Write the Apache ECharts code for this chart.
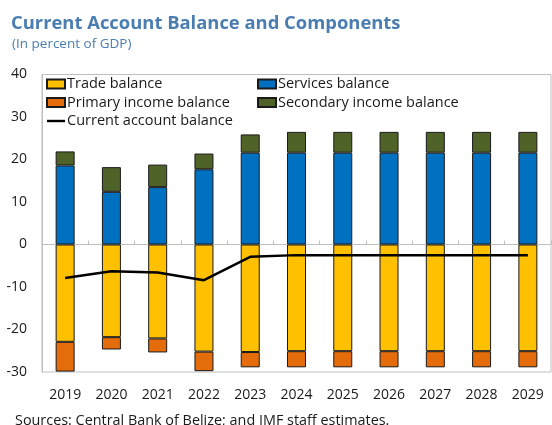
<!DOCTYPE html>
<html>
<head>
<meta charset="utf-8">
<script src="https://cdn.jsdelivr.net/npm/echarts@6/dist/echarts.min.js"></script>
<style>
  html, body { margin: 0; padding: 0; background: #fff; }
  #chart { width: 552px; height: 425px; }
</style>
</head>
<body>
<div id="chart"></div>
<script>
var years = ['2019', '2020', '2021', '2022', '2023', '2024', '2025', '2026', '2027', '2028', '2029'];
var trade = [-22.9, -21.8, -22.1, -25.2, -25.3, -25.1, -25.1, -25.1, -25.1, -25.1, -25.1];
var primary = [-7.0, -2.9, -3.3, -4.6, -3.6, -3.8, -3.8, -3.8, -3.8, -3.8, -3.8];
var services = [18.6, 12.4, 13.5, 17.7, 21.6, 21.6, 21.6, 21.6, 21.6, 21.6, 21.6];
var secondary = [3.3, 5.8, 5.3, 3.7, 4.3, 4.9, 4.9, 4.9, 4.9, 4.9, 4.9];
var current = [-7.9, -6.3, -6.6, -8.4, -2.9, -2.5, -2.5, -2.5, -2.5, -2.5, -2.5];

var FONT = 'Open Sans';
var gray = '#bfbfbf';
var edge = '#1a1a1a';
// flat line icon for the legend (invisible move-to points keep the box 18x9)
var lineIcon = 'path://M0,0M18,9M0,3.3L18,3.3L18,5.7L0,5.7Z';

var chart = echarts.init(document.getElementById('chart'));

function bar(name, data, color) {
    return {
        name: name,
        type: 'bar',
        stack: 'ca',
        data: data,
        barWidth: 19,
        itemStyle: { color: color, borderColor: edge, borderWidth: 1 }
    };
}

var legendText = { fontFamily: FONT, fontSize: 14.5, color: '#1a1a1a', lineHeight: 16, padding: [0, 0, 0, -3] };

chart.setOption({
    animation: false,
    title: [
        {
            text: 'Current Account Balance and Components',
            left: 11, top: 15, padding: 0,
            textStyle: { fontFamily: FONT, fontSize: 18.4, fontWeight: 'bold', color: '#4a7db0' }
        },
        {
            text: '(In percent of GDP)',
            left: 12, top: 37, padding: 0,
            textStyle: { fontFamily: FONT, fontSize: 13.5, fontWeight: 'normal', color: '#4a7db0' }
        },
        {
            text: 'Sources: Central Bank of Belize; and IMF staff estimates.',
            left: 15, top: 414, padding: 0,
            textStyle: { fontFamily: FONT, fontSize: 14.4, fontWeight: 'normal', color: '#1a1a1a' }
        }
    ],
    legend: [
        {
            left: 46, top: 76, orient: 'vertical', padding: 0,
            itemWidth: 18, itemHeight: 9, itemGap: 2.5,
            data: [
                { name: 'Trade balance', icon: 'rect' },
                { name: 'Primary income balance', icon: 'rect' },
                { name: 'Current account balance', icon: lineIcon }
            ],
            textStyle: legendText
        },
        {
            left: 257, top: 76, orient: 'vertical', padding: 0,
            itemWidth: 18, itemHeight: 9, itemGap: 2.5,
            data: [
                { name: 'Services balance', icon: 'rect' },
                { name: 'Secondary income balance', icon: 'rect' }
            ],
            textStyle: legendText
        }
    ],
    grid: {
        left: 42, right: 1, top: 74.5, bottom: 53,
        show: true, borderColor: gray, borderWidth: 1
    },
    xAxis: [
        {
            type: 'category', data: years, position: 'bottom',
            axisLine: { onZero: true, lineStyle: { color: gray, width: 1 } },
            axisTick: { show: true, inside: true, length: 4, lineStyle: { color: gray } },
            axisLabel: { show: false }
        },
        {
            type: 'category', data: years, position: 'bottom',
            axisLine: { show: false, onZero: false },
            axisTick: { show: false },
            axisLabel: { fontFamily: FONT, fontSize: 14, color: '#1a1a1a', margin: 16 }
        }
    ],
    yAxis: {
        type: 'value', min: -30, max: 40, interval: 10,
        axisLine: { show: true, lineStyle: { color: gray } },
        axisTick: { show: false },
        splitLine: { show: false },
        axisLabel: { fontFamily: FONT, fontSize: 14, color: '#1a1a1a', margin: 15 }
    },
    series: [
        bar('Trade balance', trade, '#ffc000'),
        bar('Primary income balance', primary, '#e46c0a'),
        bar('Services balance', services, '#0070c0'),
        bar('Secondary income balance', secondary, '#4f6228'),
        {
            name: 'Current account balance',
            type: 'line',
            data: current,
            symbol: 'none',
            z: 5,
            lineStyle: { color: '#000', width: 2.5 },
            itemStyle: { color: '#000' }
        }
    ]
});
</script>
</body>
</html>
